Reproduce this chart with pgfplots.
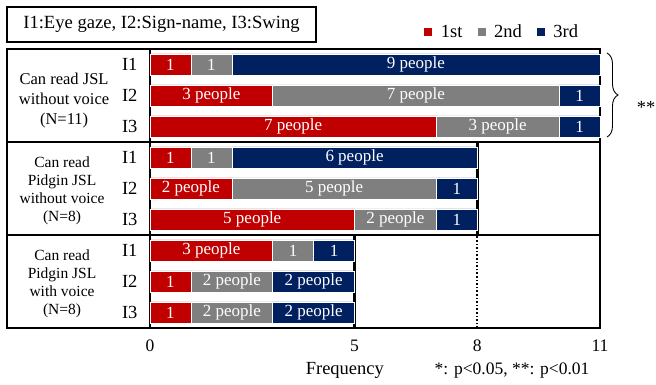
\documentclass[border=0pt]{standalone}
\usepackage{pgfplots}
\usepackage{pgfplotstable}
\pgfplotsset{compat=1.18}
\usepackage{fontspec}
\setmainfont{Liberation Serif}
\usetikzlibrary{decorations.pathreplacing}

\definecolor{cFirst}{HTML}{C00000}
\definecolor{cSecond}{HTML}{7F7F7F}
\definecolor{cThird}{HTML}{002060}

% rows listed top to bottom: JSL without voice (I1..I3),
% Pidgin JSL without voice, Pidgin JSL with voice
\pgfplotstableread{
row first second third
8.5 1 1 9
7.5 3 7 1
6.5 7 3 1
5.5 1 1 6
4.5 2 5 1
3.5 5 2 1
2.5 3 1 1
1.5 1 2 2
0.5 1 2 2
}\freqtable

% "1" for a single person, "N people" otherwise
\newcommand{\peoplelabel}{\ifnum\pgfplotspointmeta=1 1\else\pgfplotspointmeta{} people\fi}

\pgfplotsset{
  common/.style={
    scale only axis, width=450pt, height=279pt,
    xmin=0, xmax=11, ymin=0, ymax=9,
  },
}

\begin{document}
\begin{tikzpicture}
\begin{axis}[common,
  xbar stacked, bar width=21pt,
  axis line style={line width=2.5pt},
  xtick={0,5,8,11},
  ytick={0.5,1.5,...,8.5},
  yticklabels={I3,I2,I1,I3,I2,I1,I3,I2,I1},
  major tick length=0pt,
  /pgf/number format/assume math mode=true,
  xticklabel style={font=\fontsize{17.5}{17.5}\selectfont, anchor=base, yshift=-24pt},
  yticklabel style={font=\fontsize{18.5}{18.5}\selectfont, xshift=-9pt},
  xlabel={Frequency},
  xlabel style={font=\fontsize{18.5}{18.5}\selectfont, at={(rel axis cs:0.433,0)}, anchor=base, yshift=-47pt},
  clip=false,
  legend columns=3,
  legend style={draw=none, fill=none, inner sep=0pt,
    at={(rel axis cs:0.607,1.062)}, anchor=west,
    font=\fontsize{18.5}{18.5}\selectfont,
    /tikz/every even column/.append style={column sep=12pt},
    /tikz/every odd column/.append style={column sep=6pt}},
  legend image code/.code={\fill[#1] (0pt,-4.5pt) rectangle (9pt,4.5pt);},
]
\addplot[fill=cFirst, draw=white, line width=0.6pt] table[x=first, y=row] {\freqtable};
\addplot[fill=cSecond, draw=white, line width=0.6pt] table[x=second, y=row] {\freqtable};
\addplot[fill=cThird, draw=white, line width=0.6pt] table[x=third, y=row] {\freqtable};
\legend{1st,2nd,3rd}

% group frames
\draw[line width=2.5pt] (axis cs:-3.5,0) rectangle (axis cs:0,9);
\draw[line width=2.5pt] (axis cs:-3.5,3) -- (axis cs:11,3);
\draw[line width=2.5pt] (axis cs:-3.5,6) -- (axis cs:11,6);
\draw[line width=2.5pt] (axis cs:8,3) -- (axis cs:8,6);
\draw[line width=2.5pt] (axis cs:5,0) -- (axis cs:5,3);
\draw[line width=1.6pt, dotted] (axis cs:8,0) -- (axis cs:8,3);

% group names
\node[align=center, font=\fontsize{16.5}{20}\selectfont] at (axis cs:-2.1,7.35)
  {Can read JSL\\without voice\\(N=11)};
\node[align=center, font=\fontsize{15.5}{18}\selectfont] at (axis cs:-2.15,4.42)
  {Can read\\Pidgin JSL\\without voice\\(N=8)};
\node[align=center, font=\fontsize{15.5}{18}\selectfont] at (axis cs:-2.15,1.42)
  {Can read\\Pidgin JSL\\with voice\\(N=8)};
\end{axis}

% segment labels, centred in each segment
\begin{axis}[common, hide axis,
  point meta=explicit symbolic,
  nodes near coords={\peoplelabel},
  nodes near coords style={anchor=center, text=white, font=\fontsize{17}{17}\selectfont},
]
\addplot[only marks, mark=*, mark size=0pt, mark options={draw=none, fill=none}]
  table[x expr=\thisrow{first}/2, y=row, meta=first] {\freqtable};
\addplot[only marks, mark=*, mark size=0pt, mark options={draw=none, fill=none}]
  table[x expr=\thisrow{first}+\thisrow{second}/2, y=row, meta=second] {\freqtable};
\addplot[only marks, mark=*, mark size=0pt, mark options={draw=none, fill=none}]
  table[x expr=\thisrow{first}+\thisrow{second}+\thisrow{third}/2, y=row, meta=third] {\freqtable};
\end{axis}

% key to the item names
\node[draw, line width=2.2pt, minimum width=309pt, minimum height=35pt, inner sep=0pt,
  font=\fontsize{18.6}{18.6}\selectfont] at (11.5pt,303.5pt)
  {I1:Eye gaze, I2:Sign-name, I3:Swing};

% significance bracket for the first group
\draw[line width=0.9pt, decorate, decoration={brace, amplitude=11pt, aspect=0.5}]
  (457pt,275pt) -- (457pt,191pt);
\node[font=\fontsize{18.5}{18.5}\selectfont] at (496pt,221pt) {**};

\node[font=\fontsize{17.5}{17.5}\selectfont, anchor=base] at (362pt,-47pt)
  {*: p<0.05, **: p<0.01};

\pgfresetboundingbox
\path[use as bounding box] (-150pt,-57pt) rectangle (506pt,328pt);
\end{tikzpicture}
\end{document}
